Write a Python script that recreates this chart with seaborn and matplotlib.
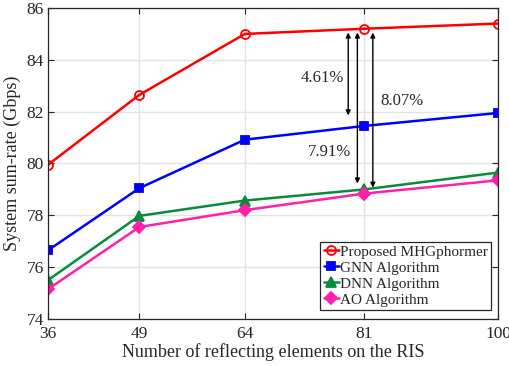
import matplotlib
matplotlib.use("Agg")
import matplotlib.pyplot as plt
import seaborn as sns
import pandas as pd

# RIS size (number of reflecting elements)
elements = [36, 49, 64, 81, 100]

# System sum-rate (Gbps) per method
mhgphormer = [79.95, 82.65, 85.00, 85.20, 85.40]
gnn = [76.65, 79.05, 80.92, 81.45, 81.95]
dnn = [75.50, 77.98, 78.57, 79.00, 79.65]
ao = [75.15, 77.55, 78.20, 78.84, 79.35]

methods = ["Proposed MHGphormer", "GNN Algorithm", "DNN Algorithm", "AO Algorithm"]
series = [mhgphormer, gnn, dnn, ao]
colors = ["#ff0000", "#0000ff", "#0a8a3c", "#ff1fa8"]
markers = ["o", "s", "^", "D"]
msizes = [6.5, 5.5, 7.5, 6.0]

df = pd.DataFrame(
    [(m, x, v) for m, vals in zip(methods, series) for x, v in zip(elements, vals)],
    columns=["method", "elements", "rate"],
)

sns.set_style("white")
plt.rcParams["font.family"] = ["Liberation Serif", "DejaVu Serif"]

fig = plt.figure(figsize=(5.1, 3.66), dpi=100)
ax = fig.add_axes([48 / 510, 1 - 319 / 366, 450 / 510, 311 / 366])

sns.lineplot(
    data=df, x="elements", y="rate", hue="method", style="method",
    hue_order=methods, style_order=methods,
    palette=colors, markers=markers, dashes=False,
    linewidth=1.8, ax=ax, legend=False,
)


def style_marker(line, i):
    line.set_markeredgecolor(colors[i])
    line.set_markersize(msizes[i])
    line.set_markeredgewidth(1.3)
    line.set_markerfacecolor("none" if i == 0 else colors[i])


data_lines = ax.get_lines()[:4]
for i, line in enumerate(data_lines):
    style_marker(line, i)

ax.set_xlim(36, 100)
ax.set_ylim(74, 86)
ax.set_xticks(elements)
ax.set_yticks(range(74, 87, 2))
ax.grid(True, color="#e3e3e3", linewidth=1.0)
ax.tick_params(direction="in", length=4, labelsize=12.5, colors="#262626",
               top=True, right=True, bottom=True, left=True)
ax.tick_params(axis="x", pad=5)
ax.tick_params(axis="y", pad=3)
for s in ax.spines.values():
    s.set_color("#262626")
    s.set_linewidth(0.9)
ax.set_xlabel("Number of reflecting elements on the RIS", fontsize=13, labelpad=1)
ax.set_ylabel("System sum-rate (Gbps)", fontsize=13, labelpad=4)

# Gain arrows at 81 elements
top = mhgphormer[3]
arrow_kw = dict(arrowstyle="<|-|>", color="black", lw=1.0, mutation_scale=7)
ax.annotate("", xy=(78.7, top - 0.04), xytext=(78.7, gnn[3] + 0.3), arrowprops=arrow_kw)
ax.annotate("", xy=(80.0, top - 0.04), xytext=(80.0, dnn[3] + 0.12), arrowprops=arrow_kw)
ax.annotate("", xy=(82.2, top - 0.04), xytext=(82.2, ao[3] + 0.12), arrowprops=arrow_kw)
ax.text(75.0, 83.3, "4.61%", fontsize=12, ha="center", va="center", color="#262626")
ax.text(86.4, 82.4, "8.07%", fontsize=12, ha="center", va="center", color="#262626")
ax.text(76.1, 80.45, "7.91%", fontsize=12, ha="center", va="center", color="#262626")

leg = ax.legend(
    handles=data_lines, labels=methods,
    loc="lower right", bbox_to_anchor=(0.985, 0.03), fontsize=11,
    frameon=True, fancybox=False, edgecolor="#262626", framealpha=1,
    handlelength=1.0, handletextpad=0.1, borderpad=0.2, labelspacing=0.15,
    borderaxespad=0.0,
)
leg.get_frame().set_linewidth(0.9)

fig.savefig("out.png", dpi=100)
